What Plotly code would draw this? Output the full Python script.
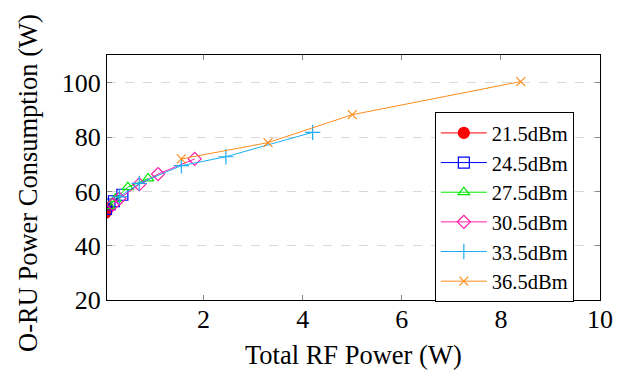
import plotly.graph_objects as go

series_names = ["21.5dBm", "24.5dBm", "27.5dBm", "30.5dBm", "33.5dBm", "36.5dBm"]
x_215 = [0.02, 0.04, 0.06]
y_215 = [52.2, 53.0, 53.8]
x_245 = [0.03, 0.10, 0.19, 0.36]
y_245 = [53.6, 55.2, 56.4, 58.8]
x_275 = [0.10, 0.22, 0.47, 0.88]
y_275 = [54.6, 57.3, 61.6, 64.8]
x_305 = [0.17, 0.30, 0.70, 1.08, 1.82]
y_305 = [55.2, 57.4, 62.6, 66.4, 72.0]
x_335 = [0.30, 0.70, 1.55, 2.45, 4.20]
y_335 = [58.0, 63.0, 69.5, 72.8, 81.8]
x_365 = [1.55, 3.30, 5.00, 8.40]
y_365 = [72.0, 78.0, 88.3, 100.5]
y_ticks = [20, 40, 60, 80, 100]
x_ticks = [2, 4, 6, 8, 10]

xs = [x_215, x_245, x_275, x_305, x_335, x_365]
ys = [y_215, y_245, y_275, y_305, y_335, y_365]
colors = ["#ff0000", "#0000ff", "#00e600", "#ff1aa8", "#1aaef0", "#ff8c1a"]
symbols = ["circle", "square-open", "triangle-up-open", "diamond-open", "cross-thin-open", "x-thin-open"]
sizes = [11, 11, 10, 10, 11, 9]

fig = go.Figure()
for name, x, y, c, s, sz in zip(series_names, xs, ys, colors, symbols, sizes):
    fig.add_trace(go.Scatter(
        x=x, y=y, mode="lines+markers", name=name,
        line=dict(color=c, width=1),
        marker=dict(symbol=s, size=sz, color=c, line=dict(color=c, width=1.2)),
    ))

font_family = "Liberation Serif"
fig.update_layout(
    width=633, height=377,
    margin=dict(l=99, r=41, t=47, b=85, autoexpand=False),
    paper_bgcolor="white", plot_bgcolor="white",
    font=dict(family=font_family, size=26, color="black"),
    showlegend=True,
    legend=dict(
        x=0.665, y=0.767, xanchor="left", yanchor="top",
        bgcolor="white", bordercolor="black", borderwidth=1,
        font=dict(family=font_family, size=20.5),
        tracegroupgap=0, itemwidth=46,
    ),
    xaxis=dict(
        range=[0.05, 10], tickvals=x_ticks, ticktext=[str(v) for v in x_ticks],
        showgrid=False, zeroline=False, automargin=False,
        showline=True, linecolor="black", linewidth=1, mirror="ticks",
        ticks="inside", ticklen=5, tickcolor="#888888",
        tickfont=dict(size=26), ticklabelstandoff=-4,
    ),
    yaxis=dict(
        range=[20, 110.3], tickvals=y_ticks, ticktext=[str(v) for v in y_ticks],
        showgrid=True, gridcolor="#d9d9d9", griddash="dash", gridwidth=1,
        zeroline=False, automargin=False,
        showline=True, linecolor="black", linewidth=1, mirror="ticks",
        ticks="inside", ticklen=5, tickcolor="#888888",
        tickfont=dict(size=26),
    ),
    annotations=[
        dict(text="Total RF Power (W)", xref="paper", yref="paper",
             x=0.501, y=-0.224, xanchor="center", yanchor="middle",
             showarrow=False, font=dict(size=26.5)),
        dict(text="O-RU Power Consumption (W)", xref="paper", yref="paper",
             x=-0.160, y=0.478, xanchor="center", yanchor="middle", textangle=-90,
             showarrow=False, font=dict(size=26.5)),
    ],
)

fig.write_html("out.html")
